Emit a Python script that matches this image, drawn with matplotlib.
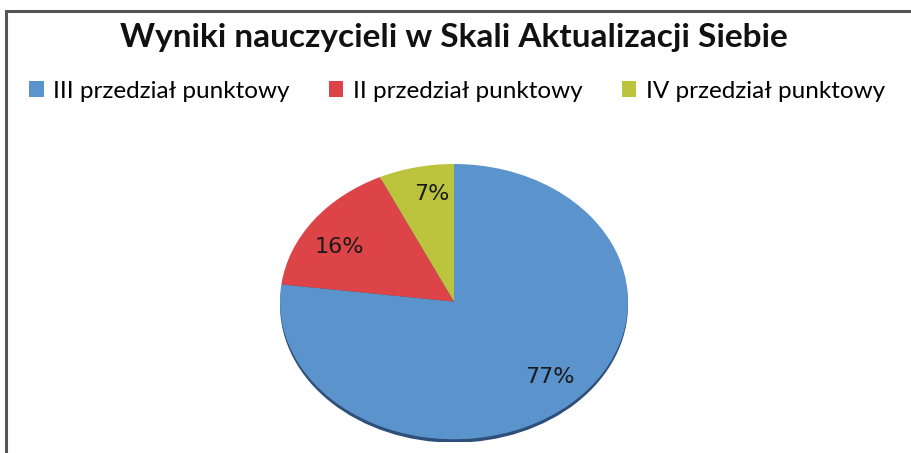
import matplotlib.pyplot as plt
from matplotlib.patches import Ellipse, Rectangle, Patch

title = "Wyniki nauczycieli w Skali Aktualizacji Siebie"
categories = ["III przedział punktowy", "II przedział punktowy", "IV przedział punktowy"]
values = [77, 16, 7]
colors = ["#5b93cc", "#dc4448", "#bcc43e"]

W, H = 912, 453
fig = plt.figure(figsize=(W / 100, H / 100), dpi=100)

# border of the chart area (runs off the right/bottom edge)
fig.patches.append(Rectangle((6.5 / W, -0.05), 1.1, (H - 11.5) / H + 0.05,
                             transform=fig.transFigure, fill=False,
                             edgecolor="#555555", linewidth=2.2))

fig.text(454 / W, 1 - 38 / H, title, ha="center", va="center",
         fontsize=24, fontweight="bold", family="Lato", color="#111111")

# pie drawn squashed into an ellipse
ax = fig.add_axes([280 / W, 11 / H, 348 / W, 278 / H])
ax.add_patch(Ellipse((0, -0.025), 2.0, 2.0, facecolor="#2d4f7a", zorder=0))
wedges, texts, autotexts = ax.pie(values, colors=colors, startangle=90,
                                  counterclock=False, autopct="%d%%",
                                  pctdistance=0.62,
                                  textprops=dict(fontsize=16, color="#1a1a1a"))
autotexts[0].set_position((0.55, -0.55))
autotexts[1].set_position((-0.66, 0.4))
autotexts[2].set_position((-0.13, 0.78))
ax.set_aspect("auto")
ax.set_xlim(-1.0, 1.0)
ax.set_ylim(-1.02, 1.0)

handles = [Patch(facecolor=c) for c in colors]
fig.legend(handles, categories, loc="center", bbox_to_anchor=(457 / W, 1 - 91 / H),
           ncol=3, frameon=False, prop=dict(family="Lato", size=17.5),
           handlelength=0.6, handleheight=0.6, handletextpad=0.4,
           columnspacing=1.6)

fig.savefig("out.png", dpi=100, facecolor="white")
